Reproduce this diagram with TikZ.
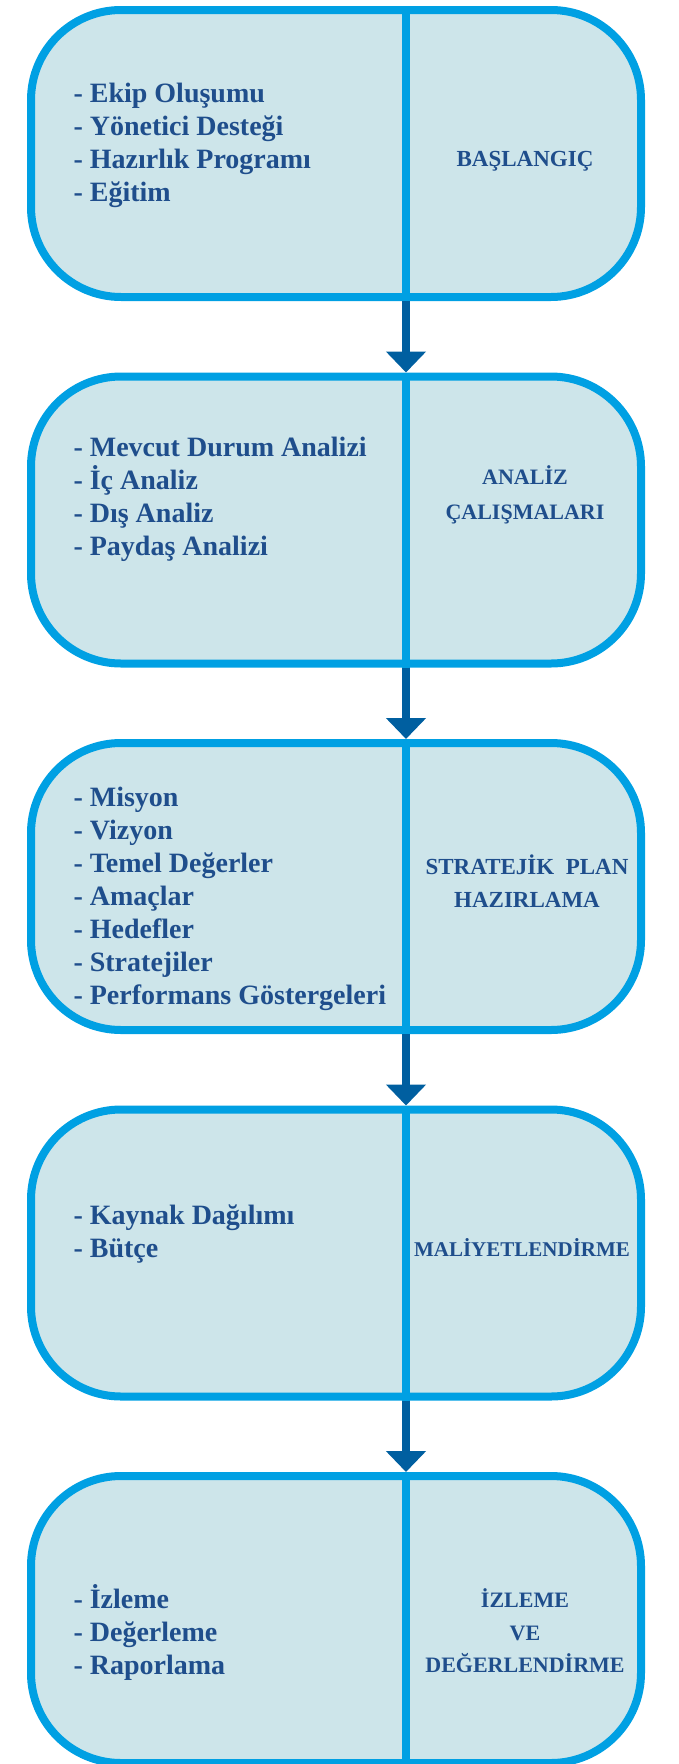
\documentclass[tikz,border=0pt]{standalone}
\usepackage{fontspec}
\setmainfont{Liberation Serif}
\usepackage{xcolor}
\usetikzlibrary{arrows.meta, positioning}

\definecolor{boxfill}{HTML}{CDE5EA}
\definecolor{boxline}{HTML}{00A0E3}
\definecolor{arrowblue}{HTML}{005FA0}
\definecolor{textblue}{HTML}{1F4E8C}

\tikzset{
    phase/.style={draw=boxline, fill=boxfill, line width=8pt, rounded corners=90pt,
        minimum width=610pt, minimum height=287pt, inner sep=0pt},
    items/.style={anchor=west, align=left, text=textblue,
        font=\bfseries\fontsize{28}{33}\selectfont},
    title/.style={align=center, text=textblue,
        font=\bfseries\fontsize{22}{32.5}\selectfont},
    divider/.style={draw=boxline, line width=8pt},
    flow/.style={draw=arrowblue, line width=8pt, -{Triangle[width=39pt, length=21pt]}},
}

\begin{document}
\begin{tikzpicture}[x=1pt, y=-1pt, node distance=71.5pt]
        \path[use as bounding box, clip] (0,0) rectangle (678,1764);

        \node[phase] (b1) at (336,153.5) {};
        \node[phase, below=of b1] (b2) {};
        \node[phase, below=of b2] (b3) {};
        \node[phase, below=of b3] (b4) {};
        \node[phase, below=of b4] (b5) {};

        \coordinate (split) at (406,0);
        \foreach \i in {1,...,5}
            \draw[divider] (b\i.north -| split) -- (b\i.south -| split);
        \foreach \a/\b in {b1/b2, b2/b3, b3/b4, b4/b5}
            \draw[flow] (\a.south -| split) -- (\b.north -| split);

        \node[items] (l1) at (70,145) {- Ekip Oluşumu\\- Yönetici Desteği\\- Hazırlık Programı\\- Eğitim};
        \node[title, font=\bfseries\fontsize{23}{32.5}\selectfont] (t1) at (525,161) {BAŞLANGIÇ};

        \node[items] (l2) at (70,499) {- Mevcut Durum Analizi\\- İç Analiz\\- Dış Analiz\\- Paydaş Analizi};
        \node[title, font=\bfseries\fontsize{22}{35}\selectfont] (t2) at (525,495) {ANALİZ\\ÇALIŞMALARI};

        \node[items] (l3) at (70,899) {- Misyon\\- Vizyon\\- Temel Değerler\\- Amaçlar\\- Hedefler\\- Stratejiler\\- Performans Göstergeleri};
        \node[title, font=\bfseries\fontsize{23}{32.5}\selectfont] (t3) at (527,881) {STRATEJİK~~PLAN\\HAZIRLAMA};

        \node[items] (l4) at (70,1234) {- Kaynak Dağılımı\\- Bütçe};
        \node[title, font=\bfseries\fontsize{21}{32.5}\selectfont] (t4) at (522,1248) {MALİYETLENDİRME};

        \node[items] (l5) at (70,1632) {- İzleme\\- Değerleme\\- Raporlama};
        \node[title] (t5) at (525,1631) {İZLEME\\VE\\DEĞERLENDİRME};
\end{tikzpicture}
\end{document}
